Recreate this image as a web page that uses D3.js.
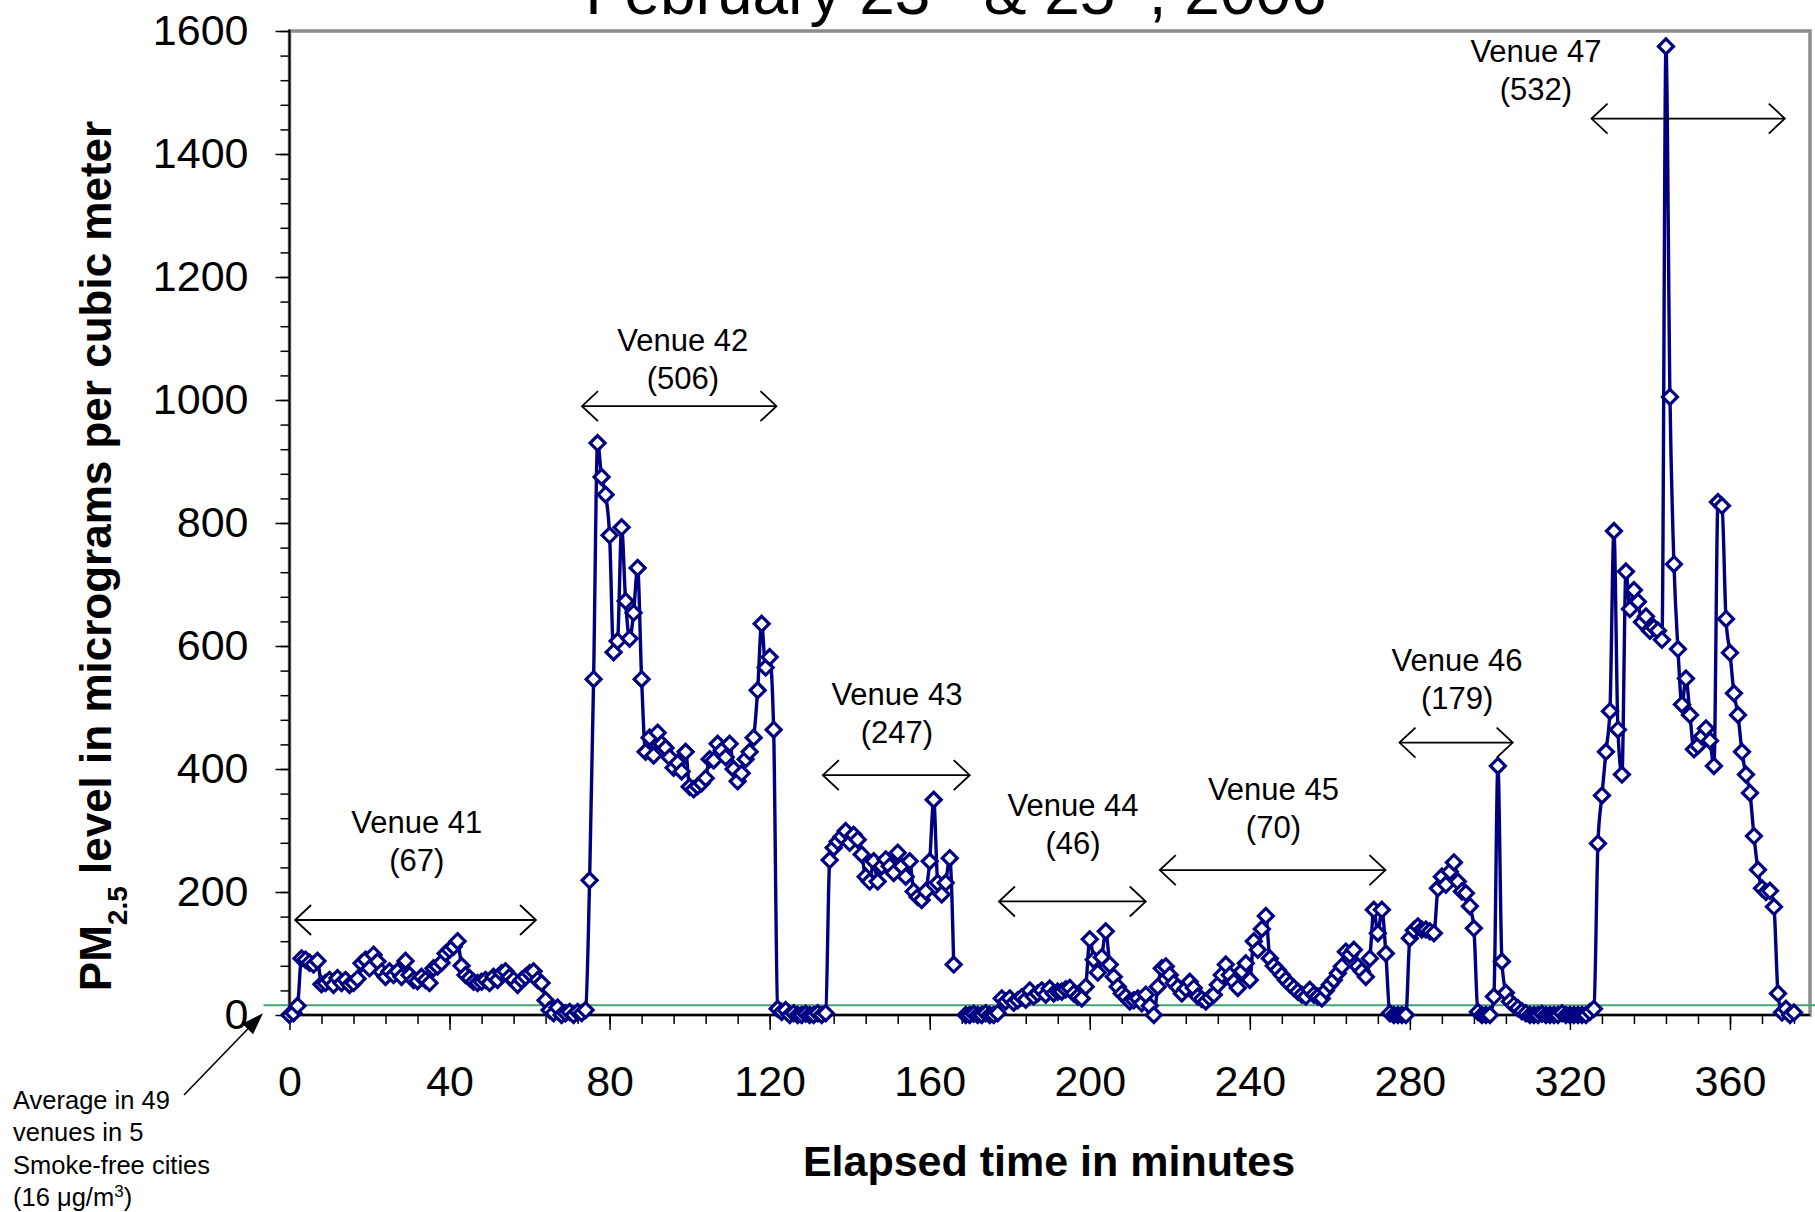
<!DOCTYPE html>
<html>
<head>
<meta charset="utf-8">
<script src="https://cdn.jsdelivr.net/npm/d3@7"></script>
<style>
  html, body { margin: 0; padding: 0; background: #fff; }
  svg { display: block; font-family: "Liberation Sans", Arial, Helvetica, sans-serif; }
</style>
</head>
<body>
<svg id="chart" width="1815" height="1212"></svg>
<script>
// PM2.5 readings, one per elapsed minute (null = no reading logged)
const pm25 = [
  0, 3, 15, 92, 90, 85, 82, 88, 50, 52, 57, 49, 60, 52, 57, 49, 52, 59, 84, 90,
  76, 98, 87, 70, 62, 71, 65, 71, 62, 88, 65, 57, 55, 62, 57, 52, 76, 79, 85, 100,
  106, 111, 120, 80, 65, 60, 54, 52, 54, 57, 52, 62, 57, 68, 71, 62, 57, 49, 57, 62,
  68, 71, 57, 52, 24, 8, 3, 12, 0, 3, 5, 0, 5, 3, 8, 219, 546, 930, 875, 846,
  780, 590, 608, 793, 673, 612, 654, 727, 546, 428, 451, 422, 459, 441, 434, 419, 402, 410, 396, 428,
  371, 367, 372, 377, 385, 416, 414, 441, 430, 419, 441, 400, 380, 393, 416, 428, 451, 528, 636, 565,
  582, 464, 10, 5, 8, 0, 3, 0, 0, 2, 0, 0, 3, 0, 3, 252, 272, 282, 290, 299,
  280, 293, 285, 261, 225, 217, 250, 217, 242, 253, 242, 231, 264, 242, 225, 250, 201, 192, 187, 201,
  250, 350, 215, 196, 215, 255, 82, null, null, 0, 0, 2, 0, 0, 3, 0, 0, 3, 27, 22,
  27, 20, 24, 29, 25, 40, 30, 35, 40, 33, 43, 35, 38, 38, 42, 44, 35, 30, 27, 46,
  123, 90, 69, 94, 136, 82, 62, 46, 35, 30, 22, 24, 27, 19, 33, 15, 0, 46, 76, 79,
  65, 52, 45, 35, 43, 54, 44, 30, 26, 22, 28, 33, 49, 65, 82, 65, 54, 44, 71, 84,
  57, 120, 106, 140, 161, 92, 80, 73, 65, 57, 50, 44, 38, 33, 30, 41, 33, 30, 27, 40,
  49, 57, 68, 79, 103, 98, 106, 79, 71, 62, 92, 171, 133, 171, 100, 3, 0, 0, 0, 0,
  125, 138, 144, 139, 139, 136, 133, 206, 225, 212, 233, 248, 217, 201, 198, 177, 141, 5, 0, 0,
  0, 30, 405, 87, 36, 22, 16, 11, 6, 3, 0, 0, 0, 2, 0, 0, 0, 0, 3, 0,
  0, 0, 0, 0, 0, 5, 10, 279, 357, 428, 494, 787, 464, 391, 721, 660, 691, 672, 639, 648,
  625, 630, 625, 610, 1575, 1005, 733, 595, 505, 547, 488, 432, 438, 453, 466, 446, 405, 834, 828, 644,
  589, 523, 488, 428, 391, 361, 291, 236, 206, 200, 202, 176, 35, 4, 10, 0, 4
];

// Axis tick labels
const xTickLabels = [0, 40, 80, 120, 160, 200, 240, 280, 320, 360];
const yTickLabels = [0, 200, 400, 600, 800, 1000, 1200, 1400, 1600];

// Venues: name, average PM2.5, and the minutes each visit spanned
const venueNames = ["Venue 41", "Venue 42", "Venue 43", "Venue 44", "Venue 45", "Venue 46", "Venue 47"];
const venueMeans = [67, 506, 247, 46, 70, 179, 532];
const venueStart = [1.4, 73.1, 133.3, 177.3, 217.5, 277.4, 325.4];
const venueEnd = [61.6, 121.7, 170, 214, 273.9, 305.7, 373.7];

// Reference level: average in 49 venues in 5 smoke-free cities
const smokeFreeAverage = 16;

// Where each venue caption sits, in chart units (minute, PM2.5 level)
const venueLabelMinute = [31.8, 98.3, 151.8, 195.8, 245.9, 291.8, 311.5];
const venueLabelLevel = [296.5, 1079.6, 504, 323, 349.7, 559, 1549];
const venueArrowLevel = [154.5, 990, 390, 184.6, 235.6, 443, 1457.6];

const svg = d3.select("#chart");
const FONT = '"Liberation Sans", Arial, Helvetica, sans-serif';

const x = d3.scaleLinear().domain([0, 380]).range([289.5, 1810]);
const y = d3.scaleLinear().domain([0, 1600]).range([1015, 31]);

// Plot frame
svg.append("rect")
  .attr("x", x(0)).attr("y", y(1600))
  .attr("width", x(380) - x(0)).attr("height", y(0) - y(1600))
  .attr("fill", "none").attr("stroke", "#8c8c8c").attr("stroke-width", 3.5);

// Title (its top runs past the page edge)
const title = svg.append("text")
  .attr("x", 956).attr("y", 14)
  .attr("text-anchor", "middle")
  .attr("font-size", 64).attr("font-family", FONT).attr("fill", "#000");
title.append("tspan").text("February 23");
title.append("tspan").attr("baseline-shift", "super").attr("font-size", 40).text("rd");
title.append("tspan").text(" & 25");
title.append("tspan").attr("baseline-shift", "super").attr("font-size", 40).text("th");
title.append("tspan").text(", 2006");

// Y axis: minor ticks every 40, labelled major ticks every 200
const yMinor = svg.append("g").attr("transform", `translate(${x(0)},0)`)
  .call(d3.axisLeft(y).tickValues(d3.range(0, 1601, 40)).tickSize(9).tickFormat(""));
yMinor.select(".domain").remove();
yMinor.selectAll("line").attr("stroke", "#000").attr("stroke-width", 1.5);

const yMajor = svg.append("g").attr("transform", `translate(${x(0)},0)`)
  .call(d3.axisLeft(y).tickValues(yTickLabels).tickSize(14).tickPadding(27).tickFormat(d3.format("d")));
yMajor.select(".domain").remove();
yMajor.attr("font-size", 43).attr("font-family", FONT);
yMajor.selectAll("line").attr("stroke", "#000").attr("stroke-width", 1.5);
yMajor.selectAll("text").attr("fill", "#000");

// X axis: minor ticks every 8 minutes, labelled major ticks every 40
const xMinor = svg.append("g").attr("transform", `translate(0,${y(0)})`)
  .call(d3.axisBottom(x).tickValues(d3.range(0, 377, 8)).tickSize(9).tickFormat(""));
xMinor.select(".domain").remove();
xMinor.selectAll("line").attr("stroke", "#000").attr("stroke-width", 1.5);

const xMajor = svg.append("g").attr("transform", `translate(0,${y(0)})`)
  .call(d3.axisBottom(x).tickValues(xTickLabels).tickSize(15).tickPadding(35).tickFormat(d3.format("d")));
xMajor.select(".domain").remove();
xMajor.attr("font-size", 43).attr("font-family", FONT);
xMajor.selectAll("line").attr("stroke", "#000").attr("stroke-width", 1.5);
xMajor.selectAll("text").attr("fill", "#000");

// Axis lines
svg.append("line").attr("x1", x(0)).attr("x2", x(0)).attr("y1", y(1600) - 1.5).attr("y2", y(0))
  .attr("stroke", "#000").attr("stroke-width", 2);
svg.append("line").attr("x1", x(0)).attr("x2", x(380)).attr("y1", y(0)).attr("y2", y(0))
  .attr("stroke", "#000").attr("stroke-width", 2);

// Axis titles
const yTitle = svg.append("text")
  .attr("transform", `translate(111,556) rotate(-90)`)
  .attr("text-anchor", "middle")
  .attr("font-size", 44).attr("font-weight", "bold").attr("font-family", FONT).attr("fill", "#000");
yTitle.append("tspan").text("PM");
yTitle.append("tspan").attr("baseline-shift", "sub").attr("font-size", 28).text("2.5");
yTitle.append("tspan").text(" level in micrograms per cubic meter");

svg.append("text")
  .attr("x", 1049).attr("y", 1176)
  .attr("text-anchor", "middle")
  .attr("font-size", 43).attr("font-weight", "bold").attr("font-family", FONT).attr("fill", "#000")
  .text("Elapsed time in minutes");

// Smoke-free reference level
svg.append("line")
  .attr("x1", x(0) - 26).attr("x2", 1815)
  .attr("y1", y(smokeFreeAverage)).attr("y2", y(smokeFreeAverage))
  .attr("stroke", "#45a374").attr("stroke-width", 2);

// PM2.5 trace
const series = pm25.map((v, i) => ({ minute: i, value: v }));
const line = d3.line()
  .defined(d => d.value !== null)
  .x(d => x(d.minute))
  .y(d => y(d.value))
  .curve(d3.curveMonotoneX);

svg.append("path")
  .datum(series)
  .attr("d", line)
  .attr("fill", "none")
  .attr("stroke", "#000080")
  .attr("stroke-width", 3.4)
  .attr("stroke-linejoin", "round");

const diamond = "M0,-7.5L7.5,0L0,7.5L-7.5,0Z";
svg.append("g").selectAll("path")
  .data(series.filter(d => d.value !== null))
  .join("path")
  .attr("d", diamond)
  .attr("transform", d => `translate(${x(d.minute)},${y(d.value)})`)
  .attr("fill", "#fff")
  .attr("stroke", "#000080")
  .attr("stroke-width", 3.2);

// Venue spans and captions
function doubleArrow(g, x1, x2, yy) {
  const head = 16, half = 15;
  g.append("line").attr("x1", x1).attr("x2", x2).attr("y1", yy).attr("y2", yy);
  g.append("path").attr("d", `M${x1 + head},${yy - half}L${x1},${yy}L${x1 + head},${yy + half}`);
  g.append("path").attr("d", `M${x2 - head},${yy - half}L${x2},${yy}L${x2 - head},${yy + half}`);
}

venueNames.forEach((name, i) => {
  const g = svg.append("g").attr("stroke", "#000").attr("stroke-width", 1.8).attr("fill", "none");
  doubleArrow(g, x(venueStart[i]), x(venueEnd[i]), y(venueArrowLevel[i]));
  const t = svg.append("text")
    .attr("x", x(venueLabelMinute[i])).attr("y", y(venueLabelLevel[i]))
    .attr("text-anchor", "middle")
    .attr("font-size", 31).attr("font-family", FONT).attr("fill", "#000");
  t.append("tspan").attr("x", x(venueLabelMinute[i])).text(name);
  t.append("tspan").attr("x", x(venueLabelMinute[i])).attr("dy", 38).text(`(${venueMeans[i]})`);
});

// Callout for the smoke-free average
const tipX = x(0) - 26.5, tipY = y(smokeFreeAverage) + 8;
const tailX = x(0) - 105.5, tailY = y(0) + 80;
const ang = Math.atan2(tipY - tailY, tipX - tailX);
const hl = 22, hw = 7.5;
const bx = tipX - hl * Math.cos(ang), by = tipY - hl * Math.sin(ang);
svg.append("line")
  .attr("x1", tailX).attr("y1", tailY).attr("x2", bx).attr("y2", by)
  .attr("stroke", "#000").attr("stroke-width", 1.6);
svg.append("path")
  .attr("d", `M${tipX},${tipY}L${bx + hw * Math.sin(ang)},${by - hw * Math.cos(ang)}L${bx - hw * Math.sin(ang)},${by + hw * Math.cos(ang)}Z`)
  .attr("fill", "#000");

const note = svg.append("text")
  .attr("font-size", 25.5).attr("font-family", FONT).attr("fill", "#000");
const noteLines = ["Average in 49", "venues in 5", "Smoke-free cities"];
noteLines.forEach((s, i) => {
  note.append("tspan").attr("x", 13).attr("y", 1109 + i * 32.3).text(s);
});
const last = note.append("tspan").attr("x", 13).attr("y", 1109 + 3 * 32.3);
last.text(`(${smokeFreeAverage} μg/m`);
note.append("tspan").attr("baseline-shift", "super").attr("font-size", 17).text("3");
note.append("tspan").text(")");
</script>
</body>
</html>
